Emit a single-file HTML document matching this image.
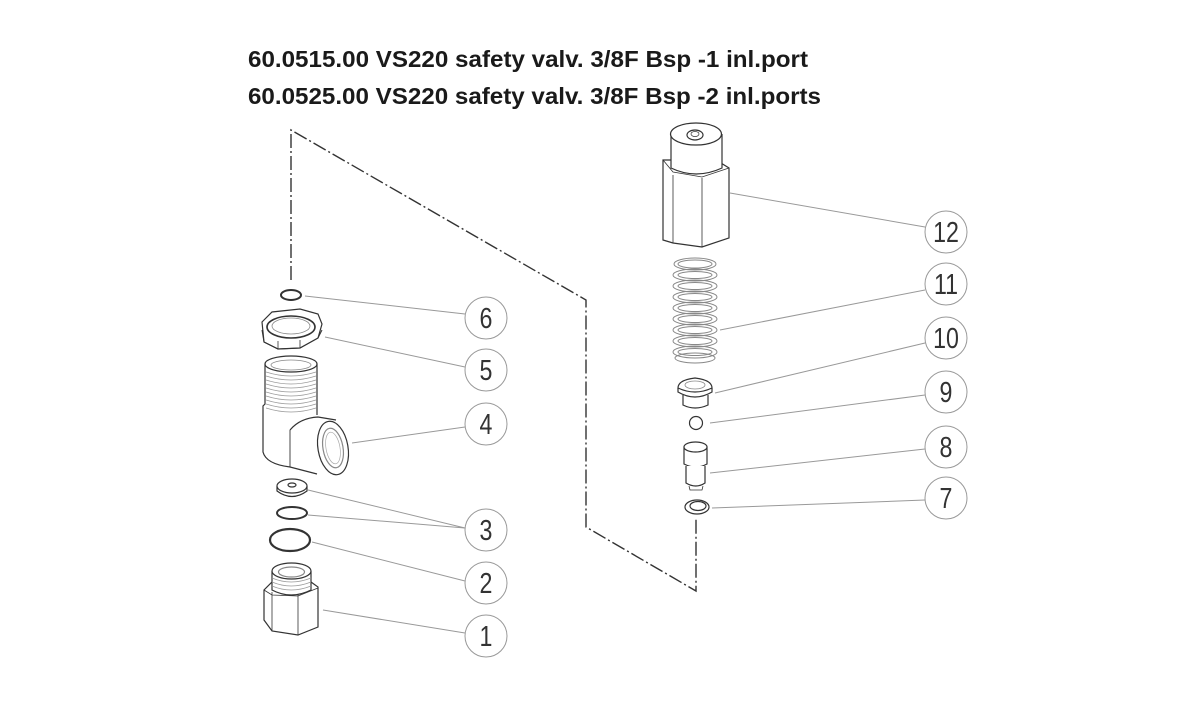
<!DOCTYPE html>
<html><head><meta charset="utf-8"><style>
html,body{margin:0;padding:0;background:#fff;}
svg{display:block;}
</style></head><body>
<svg width="1200" height="716" viewBox="0 0 1200 716" xmlns="http://www.w3.org/2000/svg">
<rect width="1200" height="716" fill="#fff"/>
<!-- Titles -->
<text x="248" y="67" font-family="Liberation Sans, Arial, sans-serif" font-weight="bold" font-size="23.5" fill="#1a1a1a" textLength="560" lengthAdjust="spacingAndGlyphs">60.0515.00 VS220 safety valv. 3/8F Bsp -1 inl.port</text>
<text x="248" y="104" font-family="Liberation Sans, Arial, sans-serif" font-weight="bold" font-size="23.5" fill="#1a1a1a" textLength="573" lengthAdjust="spacingAndGlyphs">60.0525.00 VS220 safety valv. 3/8F Bsp -2 inl.ports</text>

<!-- dash-dot center line -->
<g fill="none" stroke="#333" stroke-width="1.4" stroke-dasharray="14 3 2 3">
<polyline points="291,280 291,130 586,300 586,527 696,591 696,518"/>
</g>

<!-- leader lines -->
<g stroke="#999" stroke-width="1" fill="none">
<line x1="305" y1="296" x2="465" y2="314"/>
<line x1="325" y1="337" x2="465" y2="367"/>
<line x1="352" y1="443" x2="465" y2="427"/>
<line x1="308" y1="490" x2="465" y2="528"/>
<line x1="308" y1="515" x2="465" y2="528"/>
<line x1="312" y1="542" x2="465" y2="581"/>
<line x1="323" y1="610" x2="465" y2="633"/>
<line x1="730" y1="193" x2="925" y2="227"/>
<line x1="720" y1="330" x2="925" y2="290"/>
<line x1="715" y1="393" x2="925" y2="343"/>
<line x1="710" y1="423" x2="925" y2="395"/>
<line x1="710" y1="473" x2="925" y2="449"/>
<line x1="712" y1="508" x2="925" y2="500"/>
</g>

<!-- callout circles -->
<g stroke="#999" stroke-width="1" fill="#fff">
<circle cx="486" cy="318" r="21"/>
<circle cx="486" cy="370" r="21"/>
<circle cx="486" cy="424" r="21"/>
<circle cx="486" cy="530" r="21"/>
<circle cx="486" cy="583" r="21"/>
<circle cx="486" cy="636" r="21"/>
<circle cx="946" cy="232" r="21"/>
<circle cx="946" cy="284" r="21"/>
<circle cx="946" cy="338" r="21"/>
<circle cx="946" cy="392" r="21"/>
<circle cx="946" cy="447" r="21"/>
<circle cx="946" cy="498" r="21"/>
</g>
<g font-family="Liberation Sans, Arial, sans-serif" font-size="29" fill="#333" text-anchor="middle">
<text transform="translate(486,328) scale(0.8,1)">6</text>
<text transform="translate(486,380) scale(0.8,1)">5</text>
<text transform="translate(486,434) scale(0.8,1)">4</text>
<text transform="translate(486,540) scale(0.8,1)">3</text>
<text transform="translate(486,593) scale(0.8,1)">2</text>
<text transform="translate(486,646) scale(0.8,1)">1</text>
<text transform="translate(946,242) scale(0.8,1)">12</text>
<text transform="translate(946,294) scale(0.8,1)">11</text>
<text transform="translate(946,348) scale(0.8,1)">10</text>
<text transform="translate(946,402) scale(0.8,1)">9</text>
<text transform="translate(946,457) scale(0.8,1)">8</text>
<text transform="translate(946,508) scale(0.8,1)">7</text>
</g>

<!-- LEFT PARTS -->
<g fill="none" stroke="#333" stroke-width="1.2">
<!-- 6 o-ring -->
<ellipse cx="291" cy="295" rx="10" ry="5" stroke-width="2"/>
<!-- 5 nut -->
<path d="M262,322 L272,312 L300,309 L318,314 L322,324 L318,338 L300,348 L278,349 L264,342 Z" fill="#fff"/>
<path d="M262,330 L264,342 L278,349 L300,348 L318,338 L322,330" stroke-width="1"/>
<line x1="278" y1="341" x2="278" y2="349" stroke-width="0.8"/>
<line x1="300" y1="340" x2="300" y2="348" stroke-width="0.8"/>
<ellipse cx="291" cy="327" rx="24" ry="11" stroke-width="1.6"/>
<ellipse cx="291" cy="326" rx="19" ry="8" stroke="#888" stroke-width="0.8"/>
<!-- 4 elbow -->
<path d="M265,364 L265,404 L263,406 L263,452 Q266,464 290,467 L317,474" />
<path d="M317,364 L317,415"/>
<ellipse cx="291" cy="364" rx="26" ry="8" fill="#fff"/>
<ellipse cx="291" cy="365" rx="20" ry="5" stroke="#888" stroke-width="0.8"/>
<g stroke="#999" stroke-width="0.7">
<path d="M266,372 Q291,380 316,372"/><path d="M266,376 Q291,384 316,376"/>
<path d="M266,380 Q291,388 316,380"/><path d="M266,384 Q291,392 316,384"/>
<path d="M266,388 Q291,396 316,388"/><path d="M266,392 Q291,400 316,392"/>
<path d="M266,396 Q291,404 316,396"/><path d="M266,400 Q291,408 316,400"/>
<path d="M266,404 Q291,412 316,404"/><path d="M266,408 Q291,416 316,408"/>
</g>
<path d="M290,430 L290,467" stroke-width="0.9"/>
<path d="M290,430 Q300,418 318,417 L336,420"/>
<ellipse cx="333" cy="448" rx="15" ry="27" fill="#fff" transform="rotate(-10 333 448)"/>
<ellipse cx="333" cy="448" rx="10" ry="20" stroke="#888" transform="rotate(-10 333 448)"/>
<ellipse cx="333" cy="448" rx="7" ry="16" stroke="#aaa" stroke-width="0.7" transform="rotate(-10 333 448)"/>
<!-- 3 disc -->
<path d="M277,486 L277,491 Q292,502 307,491 L307,486"/>
<ellipse cx="292" cy="486" rx="15" ry="7" fill="#fff"/>
<ellipse cx="292" cy="485" rx="4" ry="2"/>
<!-- 3 ring -->
<ellipse cx="292" cy="513" rx="15" ry="6" stroke-width="2"/>
<!-- 2 ring -->
<ellipse cx="290" cy="540" rx="20" ry="11" stroke-width="2.2"/>
<!-- 1 fitting -->
<path d="M264,590 L264,620 L272,631 L298,635 L318,627 L318,587 L311,582 L272,582 Z" fill="#fff"/>
<line x1="272" y1="592" x2="272" y2="631" stroke-width="0.8"/>
<line x1="298" y1="594" x2="298" y2="635" stroke-width="0.8"/>
<path d="M264,590 L272,595 L298,596 L318,588" stroke-width="0.8"/>
<path d="M272,571 L272,590 Q291,600 311,590 L311,571" fill="#fff"/>
<g stroke="#999" stroke-width="0.7">
<path d="M272,578 Q291,586 311,578"/><path d="M272,582 Q291,590 311,582"/><path d="M272,586 Q291,594 311,586"/>
</g>
<ellipse cx="291.5" cy="571" rx="19.5" ry="8" fill="#fff"/>
<ellipse cx="291.5" cy="572" rx="13" ry="5" stroke="#888"/>
</g>

<!-- RIGHT PARTS -->
<g fill="none" stroke="#333" stroke-width="1.2">
<!-- 12 body hex -->
<path d="M663,160 L663,240 L673,243 L702,247 L729,238 L729,168 L716,160 Z" fill="#fff"/>
<line x1="673" y1="175" x2="673" y2="243" stroke-width="0.8"/>
<line x1="702" y1="178" x2="702" y2="247" stroke-width="0.8"/>
<path d="M663,160 L673,172 L702,177 L729,168" stroke-width="0.8"/>
<path d="M671,134 L671,168 Q696,180 722,168 L722,134" fill="#fff"/>
<ellipse cx="696" cy="134" rx="25.5" ry="11" fill="#fff"/>
<ellipse cx="695" cy="135" rx="8" ry="5"/>
<ellipse cx="695" cy="134" rx="4" ry="2.5" stroke-width="0.7"/>
</g>
<!-- 11 spring -->
<g fill="none" stroke="#888" stroke-width="1">
<ellipse cx="695" cy="264" rx="21" ry="6"/>
<ellipse cx="695" cy="264" rx="17" ry="4"/>
<ellipse cx="695" cy="275" rx="22" ry="6"/><ellipse cx="695" cy="275" rx="17" ry="3.5"/>
<ellipse cx="695" cy="286" rx="22" ry="6"/><ellipse cx="695" cy="286" rx="17" ry="3.5"/>
<ellipse cx="695" cy="297" rx="22" ry="6"/><ellipse cx="695" cy="297" rx="17" ry="3.5"/>
<ellipse cx="695" cy="308" rx="22" ry="6"/><ellipse cx="695" cy="308" rx="17" ry="3.5"/>
<ellipse cx="695" cy="319" rx="22" ry="6"/><ellipse cx="695" cy="319" rx="17" ry="3.5"/>
<ellipse cx="695" cy="330" rx="22" ry="6"/><ellipse cx="695" cy="330" rx="17" ry="3.5"/>
<ellipse cx="695" cy="341" rx="22" ry="6"/><ellipse cx="695" cy="341" rx="17" ry="3.5"/>
<ellipse cx="695" cy="352" rx="22" ry="6"/><ellipse cx="695" cy="352" rx="17" ry="3.5"/>
<ellipse cx="695" cy="358" rx="20" ry="5"/>
</g>
<g fill="none" stroke="#333" stroke-width="1.2">
<!-- 10 poppet -->
<path d="M683,395 L683,405 Q695,411 708,405 L708,395" fill="#fff"/>
<path d="M678,388 L678,392 Q695,402 712,392 L712,388" fill="#fff"/>
<path d="M678,388 Q678,380 695,378 Q712,380 712,388 Q695,396 678,388 Z" fill="#fff"/>
<ellipse cx="695" cy="385" rx="10" ry="4" stroke="#888" stroke-width="0.8"/>
<!-- 9 ball -->
<circle cx="696" cy="423" r="6.5"/>
<!-- 8 pin -->
<path d="M684,447 L684,464 Q696,470 707,464 L707,447" fill="#fff"/>
<path d="M686,466 L686,483 Q696,489 705,483 L705,466" fill="#fff"/>
<path d="M689,486 L690,490 L702,490 L703,486" stroke-width="0.8"/>
<ellipse cx="695.5" cy="447" rx="11.5" ry="5" fill="#fff"/>
<!-- 7 washer -->
<ellipse cx="697" cy="507" rx="12" ry="7" fill="#fff"/>
<ellipse cx="698" cy="506" rx="8" ry="4.5"/>
</g>
</svg>
</body></html>
